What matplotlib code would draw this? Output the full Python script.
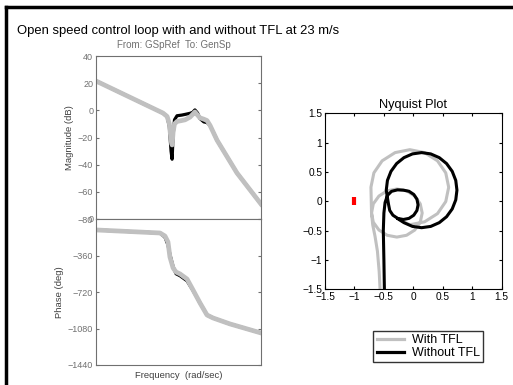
import matplotlib.pyplot as plt
from matplotlib.lines import Line2D

plt.rcParams['font.family'] = ['Liberation Sans', 'DejaVu Sans']

# Bode data (frequency in rad/s)
w_mag = [0.01, 0.42, 0.53, 0.60, 0.66, 0.70, 0.74, 0.80, 0.92, 1.2, 1.44, 1.9,
         2.2, 2.5, 2.9, 3.3, 4.1, 4.9, 5.8, 8.6, 26, 100]
mag_with = [21.6, -2, -4.5, -10, -22, -25.5, -16, -10, -8.2, -7.5, -7, -5,
            -3, -1.2, -3.5, -5.5, -6.5, -7.5, -11, -22, -46, -69]
mag_without = [21.6, -2, -4.5, -12, -30, -36, -18, -7, -4, -3.5, -3.0, -2.2,
               -1.5, 0.3, -2, -6, -8.5, -9, -11, -22, -46, -69]

w_ph = [0.01, 0.356, 0.47, 0.556, 0.62, 0.74, 0.87, 1.09, 1.61, 2.25, 3.32,
        4.91, 6.86, 17.7, 100]
ph_with = [-108, -138, -168, -227, -375, -483, -523, -542, -592, -700, -828,
           -947, -976, -1035, -1124]
ph_without = [-108, -138, -180, -255, -350, -470, -540, -560, -610, -705, -828,
              -947, -976, -1035, -1124]

# Nyquist data
nyq_with_re = [-0.56, -0.58, -0.61, -0.65, -0.69, -0.71,
               -0.68, -0.584, -0.445, -0.28, -0.115, 0.024, 0.117, 0.15, 0.117,
               0.024, -0.115, -0.28, -0.445, -0.584, -0.68, -0.71,
               -0.72, -0.67, -0.53, -0.31, -0.06, 0.19, 0.41, 0.55, 0.60, 0.55,
               0.41, 0.19, -0.06, -0.20]
nyq_with_im = [-1.6, -1.2, -0.85, -0.6, -0.4, -0.2,
               -0.043, 0.09, 0.179, 0.21, 0.179, 0.09, -0.043, -0.2, -0.357,
               -0.49, -0.579, -0.61, -0.579, -0.49, -0.357, -0.2,
               0.24, 0.485, 0.69, 0.83, 0.88, 0.83, 0.69, 0.485, 0.24, -0.005,
               -0.21, -0.35, -0.40, -0.33]
nyq_without_re = [-0.49, -0.50, -0.51, -0.50, -0.48, -0.44, -0.37, -0.27,
                  -0.17, -0.074, 0.007, 0.061, 0.08, 0.061, 0.007, -0.074, -0.17,
                  -0.266, -0.347, -0.401, -0.42, -0.44,
                  -0.46, -0.44, -0.38, -0.284, -0.16, -0.015, 0.14, 0.295, 0.44,
                  0.564, 0.66, 0.72, 0.74, 0.72, 0.66, 0.564, 0.44, 0.295, 0.14,
                  -0.015, -0.16, -0.26]
nyq_without_im = [-1.6, -1.0, -0.5, -0.2, -0.02, 0.10, 0.17, 0.195,
                  0.19, 0.171, 0.117, 0.036, -0.06, -0.156, -0.237, -0.291, -0.31,
                  -0.291, -0.237, -0.156, -0.06, 0.06,
                  0.19, 0.356, 0.51, 0.643, 0.744, 0.808, 0.83, 0.808, 0.744,
                  0.643, 0.51, 0.356, 0.19, 0.024, -0.13, -0.263, -0.364, -0.428, -0.45,
                  -0.428, -0.364, -0.30]

mag_ticks = [-80, -60, -40, -20, 0, 20, 40]
ph_ticks = [-1440, -1080, -720, -360, 0]
nyq_ticks = [-1.5, -1, -0.5, 0, 0.5, 1, 1.5]

gray = '#c0c0c0'
axgray = '#707070'
W, H = 513, 385

fig = plt.figure(figsize=(5.13, 3.85), dpi=100)


def fr(l, t, r, b):
    return [l / W, 1 - b / H, (r - l) / W, (b - t) / H]


def minus(v):
    return str(v).replace('-', '\u2212')


def style_bode(ax):
    for s in ax.spines.values():
        s.set_color(axgray)
    ax.tick_params(axis='y', direction='in', right=True, colors=axgray,
                   labelcolor=axgray, labelsize=6.5, length=2.5, pad=2)
    ax.tick_params(axis='x', which='both', bottom=False, top=False,
                   labelbottom=False)


ax1 = fig.add_axes(fr(96, 56, 261, 219))
ax1.semilogx(w_mag, mag_without, color='black', lw=2.3)
ax1.semilogx(w_mag, mag_with, color=gray, lw=3.4)
ax1.set_xlim(0.01, 100)
ax1.set_ylim(-80, 40)
ax1.set_yticks(mag_ticks)
ax1.set_yticklabels([minus(v) for v in mag_ticks])
style_bode(ax1)
ax1.set_ylabel('Magnitude (dB)', fontsize=6.8, color='#404040', labelpad=3)

ax2 = fig.add_axes(fr(96, 219, 261, 365))
ax2.semilogx(w_ph, ph_without, color='black', lw=2.3)
ax2.semilogx(w_ph, ph_with, color=gray, lw=3.4)
ax2.set_xlim(0.01, 100)
ax2.set_ylim(-1440, 0)
ax2.set_yticks(ph_ticks)
ax2.set_yticklabels([minus(v) for v in ph_ticks])
style_bode(ax2)
ax2.set_ylabel('Phase (deg)', fontsize=6.8, color='#404040', labelpad=3)
ax2.set_xlabel('Frequency  (rad/sec)', fontsize=6.8, color='#404040', labelpad=4)

ax3 = fig.add_axes(fr(325, 113.3, 501.7, 289.3))
ax3.plot(nyq_with_re, nyq_with_im, color=gray, lw=2.2, label='With TFL')
ax3.plot(nyq_without_re, nyq_without_im, color='black', lw=2.2, label='Without TFL')
ax3.plot([-1], [0], color='red', marker='|', markersize=6, mew=3, ls='none')
ax3.set_xlim(-1.5, 1.5)
ax3.set_ylim(-1.5, 1.5)
ax3.set_xticks(nyq_ticks)
ax3.set_yticks(nyq_ticks)
ax3.set_xticklabels([minus(v) for v in nyq_ticks])
ax3.set_yticklabels([minus(v) for v in nyq_ticks])
ax3.tick_params(direction='in', top=True, right=True, labelsize=7.3,
                length=2.5, pad=2)
ax3.set_title('Nyquist Plot', fontsize=9.2, pad=4)

handles = [Line2D([], [], color=gray, lw=2.3), Line2D([], [], color='black', lw=2.3)]
leg = fig.legend(handles, ['With TFL', 'Without TFL'], loc='center',
                 bbox_to_anchor=(428 / W, 1 - 346.7 / H), fontsize=9,
                 frameon=True, fancybox=False, handlelength=2.2,
                 handletextpad=0.6, borderpad=0.25, labelspacing=0.05,
                 borderaxespad=0)
leg.get_frame().set_edgecolor('black')
leg.get_frame().set_linewidth(1.0)

fig.text(17 / W, 1 - 31 / H, 'Open speed control loop with and without TFL at 23 m/s',
         fontsize=9.4, va='center', ha='left')
fig.text(174 / W, 1 - 45.5 / H, 'From: GSpRef  To: GenSp', fontsize=7,
         color=axgray, va='center', ha='center')

# frame lines (top and left)
fig.add_artist(Line2D([6 / W, 1], [1 - 7 / H, 1 - 7 / H], color='black', lw=2.5))
fig.add_artist(Line2D([6 / W, 6 / W], [0, 1 - 7 / H], color='black', lw=2.5))

fig.savefig('out.png', dpi=100)
